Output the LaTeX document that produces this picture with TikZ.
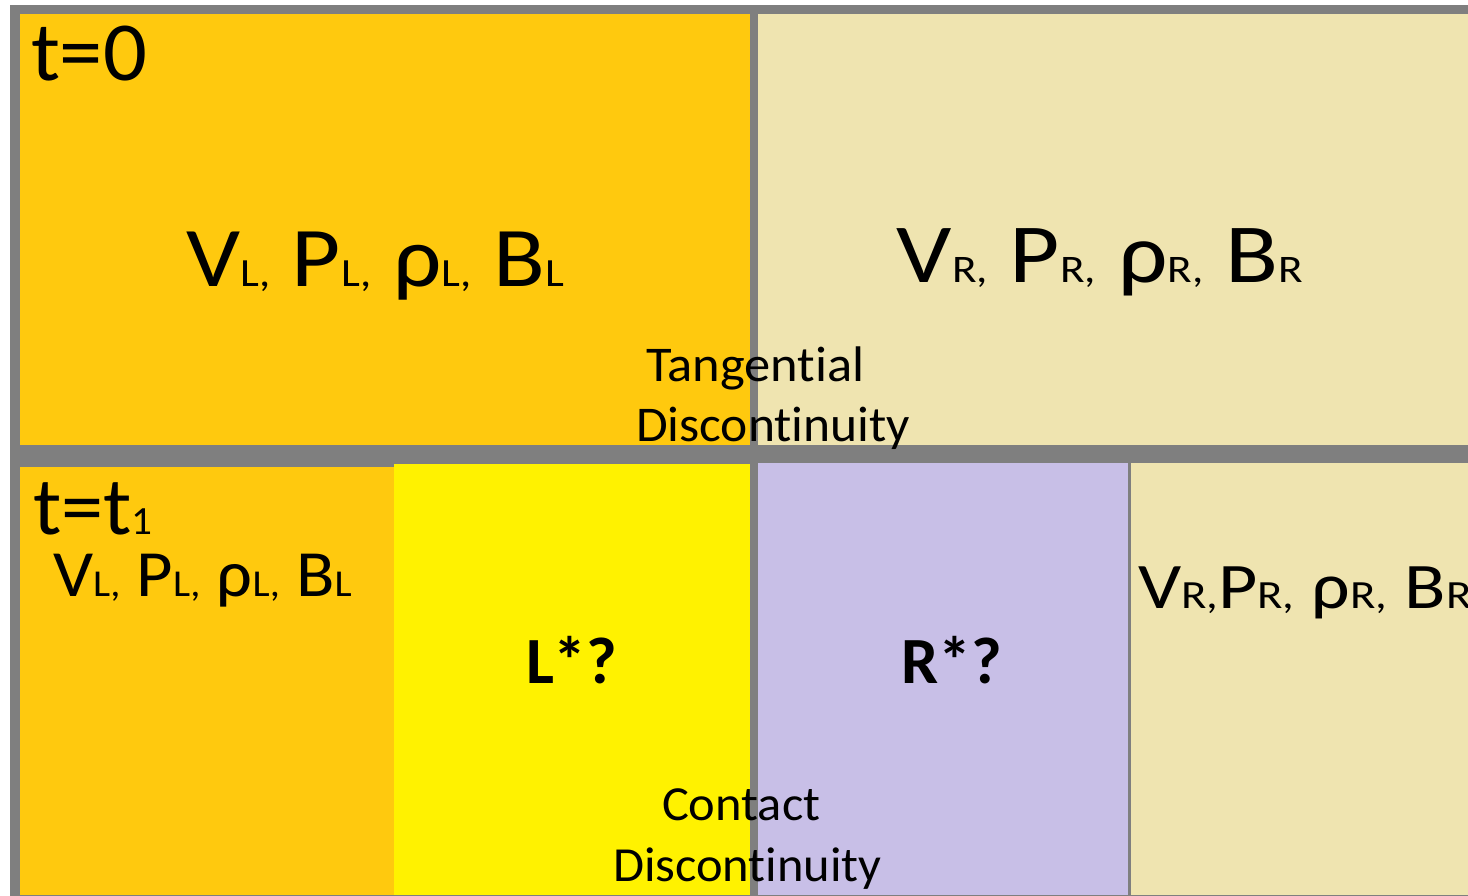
\documentclass[tikz,border=0pt]{standalone}
\usepackage{graphicx}
\usepackage{fontspec}
\setmainfont{Carlito}[Ligatures=NoCommon]
\definecolor{cOrange}{HTML}{FFC90E}
\definecolor{cBeige}{HTML}{EFE4B0}
\definecolor{cYellow}{HTML}{FFF200}
\definecolor{cLav}{HTML}{C8BFE7}
\definecolor{cGray}{HTML}{7F7F7F}
\newcommand{\fsz}[1]{\fontsize{#1}{#1}\selectfont}
\newcommand{\mysub}[2]{{\fsz{#1}#2}}
\newcommand{\wide}[2]{\scalebox{#1}[1]{#2}}
\newcommand{\nolig}{\kern0pt }
\tikzset{
  lbl/.style={inner sep=0pt, outer sep=0pt, anchor=base west, text=black},
}
\begin{document}
\begin{tikzpicture}[x=1pt,y=-1pt]
\useasboundingbox (0,0) rectangle (1468,896);
\fill[white] (0,0) rectangle (1468,896);
% frame
\fill[cGray] (10,5) rectangle (1468,896);
% top panel
\fill[cOrange] (20,14) rectangle (750,445);
\fill[cBeige] (758,14) rectangle (1468,445);
% bottom panel
\fill[cOrange] (20,467) rectangle (394,895);
\fill[cYellow] (394,464) rectangle (750,895);
\fill[cLav] (758,463) rectangle (1128,895);
\fill[cBeige] (1131,463) rectangle (1468,895);
% texts
\node[lbl] (t0) at (31,81) {\fsz{84}\wide{1.03}{t=0}};
\node[lbl, anchor=base] (left0) at (375,287) {\fsz{85}\wide{1.12}{V\mysub{40}{L,} P\mysub{40}{L,} ρ\mysub{40}{L,} B\mysub{40}{L}}};
\node[lbl, anchor=base] (right0) at (1100,283) {\fsz{84}\wide{1.16}{V\mysub{39}{R,} P\mysub{39}{R,} ρ\mysub{39}{R,} B\mysub{39}{R}}};
\node[lbl] (tang) at (646,381) {\fsz{50}\wide{1.05}{Tangent\nolig ial}};
\node[lbl] (disc1) at (636,441) {\fsz{50}\wide{1.03}{Discont\nolig inuit\nolig y}};
\node[lbl] (t1) at (33,534) {\fsz{82}\wide{1.03}{t=t\mysub{40}{1}}};
\node[lbl] (left1) at (53,596) {\fsz{66}\wide{1.07}{V\mysub{38}{L,} P\mysub{38}{L,} ρ\mysub{38}{L,} B\mysub{38}{L}}};
\node[lbl] (lstar) at (526,683) {\fsz{66}\bfseries L*?};
\node[lbl] (rstar) at (901,683) {\fsz{66}\bfseries R*?};
\node[lbl] (right1) at (1138,608) {\fsz{65}\wide{1.17}{V\mysub{40}{R,}P\mysub{40}{R,} ρ\mysub{40}{R,} B\mysub{40}{R}}};
\node[lbl] (cont) at (662,820) {\fsz{49}\wide{1.03}{Contact}};
\node[lbl] (disc2) at (613,881) {\fsz{49}\wide{1.03}{Discont\nolig inuit\nolig y}};
\end{tikzpicture}
\end{document}
